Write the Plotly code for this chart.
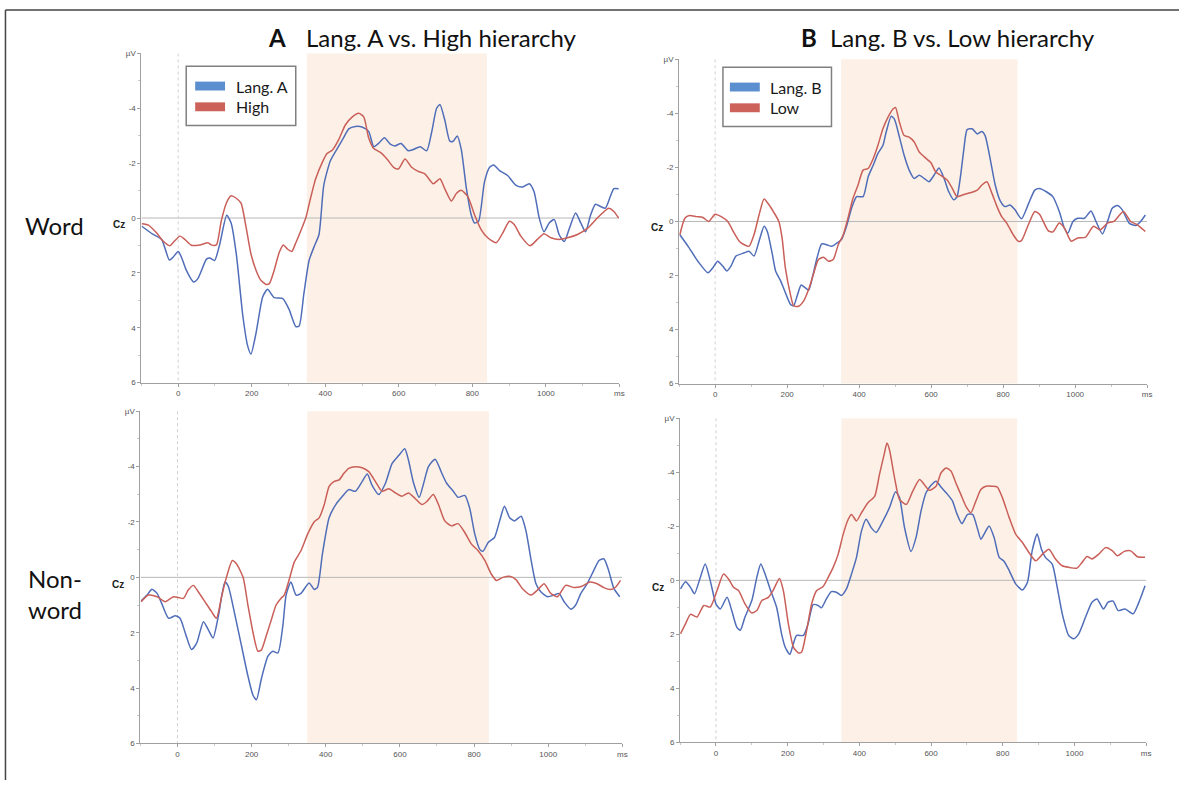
import plotly.graph_objects as go

W, H = 1184, 785

# ---------------- data (ms, µV) ----------------
# Panel A: Word, Lang. A vs High
a_lang_t = [-99,-68,-45,-24,-14,0,9,22,42,54,77,86,99,113,132,144,158,176,189,198,212,230,243,261,284,302,320,329,342,356,369,383,396,414,437,450,464,482,500,518,532,545,561,577,590,606,626,640,658,676,689,703,712,725,739,748,759,770,784,797,806,817,833,847,858,874,896,919,937,955,968,982,995,1009,1023,1036,1050,1063,1081,1095,1108,1122,1135,1149,1162,1176,1185,1198]
a_lang_v = [0.3,0.6,0.78,1.53,1.43,1.22,1.43,1.9,2.33,2.2,1.5,1.46,1.55,0.96,-0.1,0.18,1.3,3.58,4.66,4.96,4.18,2.87,2.6,2.9,2.93,3.34,3.96,3.94,2.75,1.55,1.07,0.6,-1.19,-2.09,-2.63,-2.93,-3.25,-3.34,-3.32,-3.16,-2.6,-2.72,-2.93,-2.69,-2.63,-2.72,-2.45,-2.5,-2.6,-2.45,-3.1,-4.0,-4.14,-3.58,-2.8,-2.8,-2.99,-2.5,-1.07,-0.12,0.18,0.12,-1.31,-1.85,-1.93,-1.73,-1.55,-1.19,-1.13,-1.25,-0.96,0.0,0.5,0.18,0.06,0.6,0.86,0.42,-0.18,0.18,0.5,-0.12,-0.5,-0.42,-0.36,-0.81,-1.07,-1.07]
a_high_t = [-99,-81,-59,-41,-23,-14,5,18,36,59,81,90,104,117,131,144,158,171,185,198,212,225,239,248,261,275,286,297,309,320,333,347,360,374,392,405,419,437,455,473,491,505,518,532,550,568,586,599,617,635,653,671,694,712,725,743,757,770,788,806,824,842,865,883,901,914,932,957,977,995,1014,1036,1059,1086,1113,1140,1171,1185,1198]
a_high_v = [0.21,0.26,0.54,0.84,1.01,0.9,0.66,0.78,0.99,0.98,0.9,0.98,0.98,0.12,-0.54,-0.81,-0.72,-0.54,0.36,1.31,1.91,2.27,2.42,2.39,1.91,1.25,0.98,1.13,1.22,0.9,0.48,0.0,-0.72,-1.43,-2.03,-2.35,-2.47,-2.87,-3.4,-3.68,-3.82,-3.68,-2.93,-2.53,-2.39,-2.15,-1.85,-1.79,-2.15,-1.85,-1.7,-1.61,-1.25,-1.43,-1.07,-0.62,-0.9,-1.01,-0.78,-0.12,0.42,0.72,0.9,0.54,0.12,0.24,0.66,1.01,0.78,0.57,0.72,0.78,0.72,0.6,0.38,0.0,-0.36,-0.24,0.0]

# Panel B: Word, Lang. B vs Low
b_lang_t = [-98,-75,-48,-20,-6,7,21,33,44,58,81,94,108,122,136,145,159,168,182,195,209,218,228,239,250,260,272,283,296,310,324,338,351,365,379,393,411,425,439,452,466,475,489,498,512,525,539,553,567,581,594,608,622,636,649,663,672,682,691,700,714,728,741,750,764,778,792,805,819,833,851,870,888,901,920,938,956,970,980,994,1007,1026,1044,1058,1076,1090,1103,1117,1131,1150,1168,1182,1195]
b_lang_v = [0.49,0.92,1.47,1.9,1.71,1.47,1.65,1.83,1.65,1.28,1.16,1.1,1.28,0.73,0.18,0.37,1.22,1.83,2.2,2.63,3.06,3.12,2.75,2.35,2.45,2.54,1.96,1.35,0.83,0.86,0.92,0.8,0.67,0.18,-0.49,-0.92,-0.92,-1.65,-2.08,-2.51,-2.81,-3.3,-3.89,-3.79,-3.12,-2.45,-1.9,-1.59,-1.71,-1.59,-1.47,-1.71,-1.98,-1.59,-1.1,-0.8,-0.92,-1.71,-2.69,-3.4,-3.43,-3.24,-3.33,-3.18,-2.32,-1.35,-0.76,-0.55,-0.61,-0.43,-0.1,-0.64,-1.16,-1.22,-1.1,-0.92,-0.37,0.24,0.43,0.0,-0.12,-0.12,-0.39,0.0,0.46,0.0,-0.49,-0.59,-0.43,0.06,0.15,0.0,-0.24]
b_low_t = [-98,-84,-71,-52,-34,-18,0,17,35,53,67,81,94,108,122,136,150,163,177,186,195,209,218,232,246,260,273,287,301,315,328,342,356,370,383,397,411,425,439,452,466,480,494,501,512,525,539,553,567,581,599,613,627,645,659,672,691,709,728,741,755,769,783,796,810,828,842,851,870,888,901,925,938,956,970,989,1007,1028,1051,1070,1090,1108,1134,1154,1172,1195]
b_low_v = [0.49,-0.12,-0.22,-0.18,-0.15,0.0,-0.27,-0.18,0.0,0.43,0.73,0.86,0.92,0.49,-0.24,-0.83,-0.61,-0.34,0.0,0.61,1.71,2.69,3.12,3.14,2.94,2.51,1.96,1.41,1.32,1.47,1.41,0.86,0.49,-0.18,-0.86,-1.35,-1.9,-1.96,-2.32,-2.81,-3.43,-3.85,-4.16,-4.22,-3.67,-3.18,-3.12,-2.94,-2.57,-2.39,-2.18,-1.83,-1.71,-1.53,-1.22,-0.92,-1.0,-1.06,-1.16,-1.35,-1.47,-1.04,-0.55,-0.18,0.06,0.49,0.73,0.71,0.12,-0.37,-0.27,0.34,0.39,0.06,0.24,0.73,0.61,0.59,0.18,0.31,0.06,0.0,-0.37,0.0,0.12,0.37]

# Panel C: Non-word, Lang. A vs High
c_lang_t = [-98,-82,-69,-55,-42,-24,-6,7,21,38,52,70,83,96,110,128,137,154,172,190,204,213,226,244,257,271,284,293,306,320,333,355,369,378,391,409,427,445,462,480,498,512,525,543,561,579,596,613,623,637,652,663,677,695,713,726,744,757,775,788,802,815,824,838,855,869,882,896,909,927,940,954,967,980,998,1016,1029,1043,1061,1074,1088,1105,1123,1137,1150,1163,1177,1193]
c_lang_v = [0.85,0.64,0.43,0.58,0.96,1.48,1.39,1.48,2.01,2.61,2.37,1.6,1.89,2.19,1.42,0.17,0.32,1.3,2.43,3.56,4.27,4.42,3.68,2.85,2.67,2.73,1.77,0.64,0.17,0.64,0.58,0.2,0.44,0.35,-0.85,-2.15,-2.63,-2.93,-3.17,-3.11,-3.46,-3.73,-3.32,-2.99,-3.4,-4.12,-4.39,-4.65,-4.24,-3.4,-2.89,-3.35,-4.0,-4.27,-3.76,-3.4,-3.11,-2.89,-2.96,-2.51,-1.56,-1.02,-0.94,-1.26,-1.44,-2.04,-2.57,-2.15,-2.04,-2.21,-1.68,-0.61,0.23,0.52,0.7,0.64,0.58,0.88,1.15,1.0,0.58,0.23,-0.25,-0.61,-0.67,-0.25,0.4,0.7]
c_high_t = [-98,-78,-55,-33,-11,3,16,29,43,56,74,92,105,119,132,148,159,177,190,204,217,226,239,253,266,279,288,302,315,333,351,369,382,396,409,422,436,449,462,480,498,516,534,552,570,588,605,623,641,659,672,690,704,721,739,757,775,793,811,829,846,860,878,896,913,930,954,971,989,1007,1025,1047,1070,1091,1113,1132,1150,1168,1182,1195]
c_high_v = [0.88,0.64,0.7,0.88,0.7,0.73,0.76,0.46,0.29,0.52,0.88,1.24,1.48,0.7,0.0,-0.61,-0.49,0.0,1.0,2.01,2.67,2.63,2.13,1.54,1.0,0.76,0.64,0.05,-0.55,-0.96,-1.56,-2.01,-2.15,-2.63,-3.29,-3.46,-3.52,-3.76,-3.94,-4.0,-3.96,-3.82,-3.46,-3.11,-3.2,-3.05,-2.93,-3.05,-2.85,-2.63,-2.73,-2.99,-2.63,-2.04,-1.86,-1.94,-1.62,-1.2,-0.96,-0.61,-0.13,0.11,0.0,-0.04,0.08,0.4,0.64,0.46,0.23,0.58,0.7,0.29,0.37,0.32,0.17,0.23,0.37,0.44,0.35,0.11]

# Panel D: Non-word, Lang. B vs Low
d_lang_t = [-99,-85,-71,-60,-45,-30,-16,0,12,31,44,58,68,81,100,114,125,137,151,169,183,193,206,216,225,244,257,271,285,294,308,322,336,350,364,378,392,406,419,433,447,466,484,501,512,526,544,558,572,586,600,614,628,646,660,671,686,702,716,730,739,748,762,776,790,804,818,836,855,869,882,896,908,919,938,952,966,984,998,1012,1031,1049,1063,1081,1094,1108,1122,1141,1164,1178,1197]
d_lang_v = [0.32,0.05,0.26,0.5,-0.05,-0.6,0.01,0.87,1.06,0.63,1.12,1.73,1.85,1.36,0.75,-0.11,-0.6,-0.23,0.32,0.99,1.98,2.47,2.74,2.34,2.04,2.04,1.61,0.9,0.93,1.02,0.69,0.42,0.44,0.56,0.32,-0.23,-0.85,-1.83,-2.26,-1.95,-1.77,-2.2,-2.69,-3.28,-3.06,-1.95,-1.07,-1.58,-2.56,-3.24,-3.52,-3.67,-3.45,-3.18,-2.93,-2.5,-2.1,-2.44,-2.44,-1.89,-1.52,-1.71,-2.01,-1.58,-0.85,-0.7,-0.36,0.13,0.36,0.07,-1.09,-1.71,-1.15,-0.85,-0.6,0.26,1.24,2.04,2.16,1.98,1.36,0.81,0.69,1.06,0.81,0.77,1.12,1.06,1.24,0.87,0.2]
d_low_t = [-99,-85,-71,-53,-34,-16,3,21,35,49,63,81,100,114,128,146,160,177,188,202,216,230,239,253,267,281,299,313,327,341,355,369,378,392,406,424,443,456,470,477,484,498,512,531,549,568,581,595,614,628,642,656,669,683,697,711,725,739,753,771,785,799,818,836,855,873,892,911,929,947,966,984,1007,1021,1035,1049,1068,1087,1106,1120,1139,1157,1176,1197]
d_low_v = [1.98,1.61,1.26,1.36,0.93,0.99,0.38,-0.23,-0.05,0.26,0.38,0.87,1.21,1.12,0.75,0.63,0.36,-0.07,0.38,1.61,2.47,2.69,2.65,1.85,0.87,0.38,0.23,-0.11,-0.48,-0.97,-1.71,-2.26,-2.44,-2.2,-2.5,-2.87,-3.12,-3.91,-4.71,-5.08,-4.83,-3.81,-2.99,-2.81,-3.3,-3.73,-3.55,-3.33,-3.48,-3.98,-4.16,-4.04,-3.61,-3.18,-2.75,-2.5,-2.93,-3.36,-3.48,-3.48,-3.45,-3.06,-2.32,-1.71,-1.4,-1.03,-0.72,-0.97,-1.15,-0.79,-0.54,-0.48,-0.45,-0.66,-0.88,-0.79,-0.97,-1.21,-1.09,-0.91,-1.07,-1.09,-0.87,-0.85]

x_ticks = [0, 200, 400, 600, 800, 1000, 1200]
x_tick_text = ["0", "200", "400", "600", "800", "1000", "ms"]
y_ticks = [-6, -4, -2, 0, 2, 4, 6]
y_tick_text = ["µV", "-4", "-2", "0", "2", "4", "6"]
window = (350, 840)

BLUE = "#4f6db8"
RED = "#c95f58"
SWATCH_BLUE = "#5b8fcf"
SWATCH_RED = "#cd625b"
SHADE = "#fdf1e7"

def px(x):
    return x / W

def py(y):
    return 1 - y / H

# panel pixel boxes: (left, right, top(-6), bottom(6))
panels = [
    dict(box=(142, 622, 50, 383), series=[(a_lang_t, a_lang_v, BLUE, "Lang. A"), (a_high_t, a_high_v, RED, "High")], cz=(120, 223)),
    dict(box=(682, 1152, 56, 384), series=[(b_lang_t, b_lang_v, BLUE, "Lang. B"), (b_low_t, b_low_v, RED, "Low")], cz=(660, 226)),
    dict(box=(141, 625, 412, 748), series=[(c_lang_t, c_lang_v, BLUE, "Lang. A"), (c_high_t, c_high_v, RED, "High")], cz=(118, 587)),
    dict(box=(683, 1151, 419, 747), series=[(d_lang_t, d_lang_v, BLUE, "Lang. B"), (d_low_t, d_low_v, RED, "Low")], cz=(661, 590)),
]

fig = go.Figure()
shapes = []
annotations = []
tick_font = dict(family="Liberation Sans, Arial", size=8, color="#555555")

def ann(text, x, y, font, xanchor="center", yanchor="middle", **kw):
    d = dict(text=text, x=px(x), y=py(y), xref="paper", yref="paper", showarrow=False,
             xanchor=xanchor, yanchor=yanchor, font=font)
    d.update(kw)
    return d

for i, p in enumerate(panels, start=1):
    sfx = "" if i == 1 else str(i)
    xa, ya = "x" + sfx, "y" + sfx
    l, r, t, b = p["box"]
    for tt, vv, col, name in p["series"]:
        fig.add_trace(go.Scatter(x=tt, y=vv, mode="lines", name=name, showlegend=False,
                                 line=dict(color=col, width=1.5, shape="spline", smoothing=0.6),
                                 xaxis=xa, yaxis=ya, hoverinfo="skip"))
    fig.layout["xaxis" + sfx] = dict(
        domain=[px(l), px(r)], anchor=ya, range=[-100, 1200],
        tickvals=x_ticks, ticktext=x_tick_text, tickfont=tick_font,
        showline=True, linecolor="#a0a0a0", linewidth=1,
        ticks="outside", ticklen=3, tickcolor="#a0a0a0",
        minor=dict(dtick=100, ticks="outside", ticklen=2, tickcolor="#c8c8c8"),
        showgrid=False, zeroline=False, fixedrange=True)
    fig.layout["yaxis" + sfx] = dict(
        domain=[py(b), py(t)], anchor=xa, range=[6, -6],
        tickvals=y_ticks, ticktext=y_tick_text, tickfont=tick_font,
        showline=True, linecolor="#a0a0a0", linewidth=1,
        ticks="outside", ticklen=3, tickcolor="#a0a0a0",
        minor=dict(dtick=1, ticks="outside", ticklen=2, tickcolor="#c8c8c8"),
        showgrid=False, zeroline=False, fixedrange=True)
    shapes.append(dict(type="rect", xref=xa, yref=ya + " domain", x0=window[0], x1=window[1],
                       y0=0, y1=1, fillcolor=SHADE, line=dict(width=0), layer="below"))
    shapes.append(dict(type="line", xref=xa, yref=ya, x0=-100, x1=1200, y0=0, y1=0,
                       line=dict(color="#b8b8b8", width=1), layer="below"))
    shapes.append(dict(type="line", xref=xa, yref=ya, x0=0, x1=0, y0=-6, y1=6,
                       line=dict(color="#d0d0d0", width=1, dash="dot"), layer="below"))
    annotations.append(ann("<b>Cz</b>", p["cz"][0], p["cz"][1],
                           dict(family="Liberation Sans, Arial", size=10, color="#222")))

legends = [
    dict(box=(187, 297, 63, 123), items=[("Lang. A", SWATCH_BLUE, 83), ("High", SWATCH_RED, 104)], sx=196, tx=235),
    dict(box=(726, 835, 64, 124), items=[("Lang. B", SWATCH_BLUE, 84), ("Low", SWATCH_RED, 105)], sx=733, tx=771),
]
for lg in legends:
    l, r, t, b = lg["box"]
    shapes.append(dict(type="rect", xref="paper", yref="paper", x0=px(l), x1=px(r), y0=py(b), y1=py(t),
                       fillcolor="white", line=dict(color="#808080", width=1.5)))
    for name, col, cy in lg["items"]:
        shapes.append(dict(type="rect", xref="paper", yref="paper", x0=px(lg["sx"]), x1=px(lg["sx"] + 30),
                           y0=py(cy + 4.5), y1=py(cy - 4.5), fillcolor=col, line=dict(width=0)))
        annotations.append(ann(name, lg["tx"], cy, dict(family="Lato, Open Sans", size=16, color="#1a1a1a"),
                               xanchor="left"))

title_font = dict(family="Lato, Open Sans", size=24, color="#111")
annotations += [
    ann("<b>A</b>", 278, 34, title_font),
    ann("Lang. A vs. High hierarchy", 305, 34, title_font, xanchor="left"),
    ann("<b>B</b>", 812, 34, title_font),
    ann("Lang. B vs. Low hierarchy", 832, 34, title_font, xanchor="left"),
]
row_font = dict(family="Lato, Open Sans", size=24, color="#111")
annotations += [
    ann("Word", 55, 224, row_font),
    ann("Non-<br>word", 55, 597, row_font, align="left"),
]

shapes.append(dict(type="line", xref="paper", yref="paper", x0=px(5.5), x1=1, y0=py(6), y1=py(6),
                   line=dict(color="#444", width=1.5)))
shapes.append(dict(type="line", xref="paper", yref="paper", x0=px(5.5), x1=px(5.5), y0=0, y1=py(6),
                   line=dict(color="#444", width=1.5)))

fig.update_layout(width=W, height=H, margin=dict(l=0, r=0, t=0, b=0), autosize=False,
                  paper_bgcolor="white", plot_bgcolor="white",
                  shapes=shapes, annotations=annotations, showlegend=False)

fig.write_html("out.html", config={"displayModeBar": False},
               post_script="document.body.style.margin='0';document.body.style.overflow='hidden';")
